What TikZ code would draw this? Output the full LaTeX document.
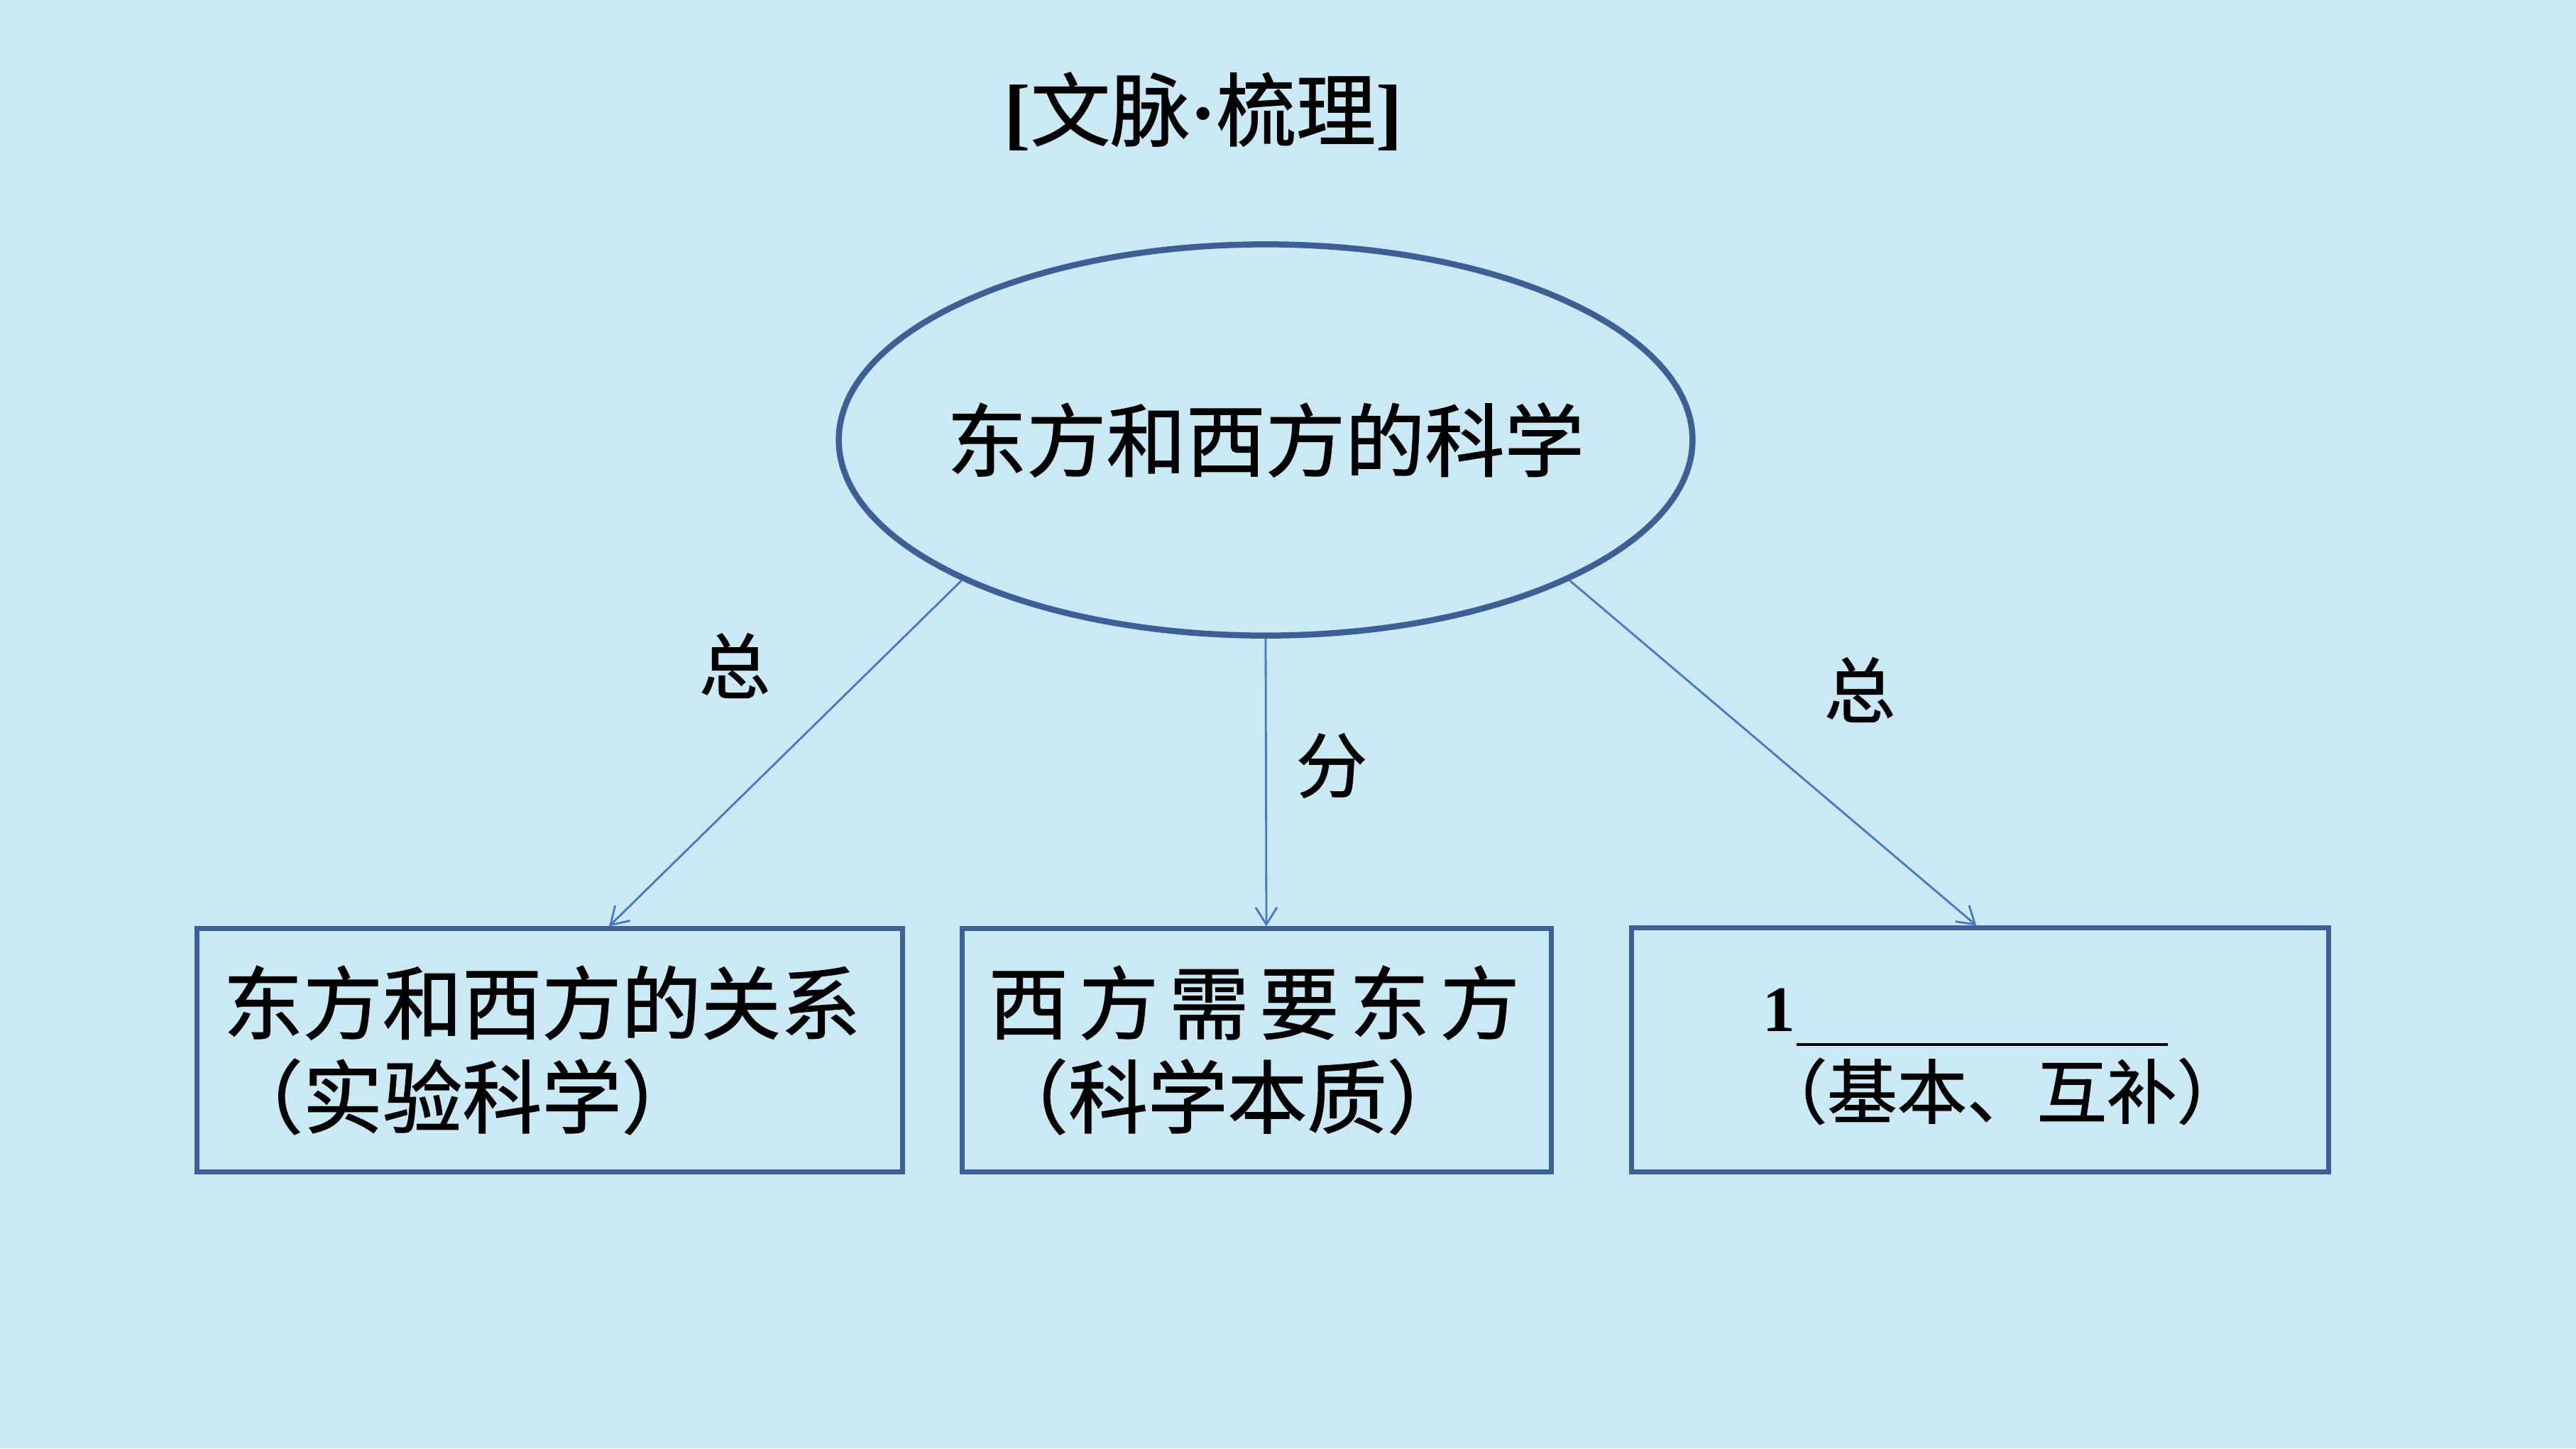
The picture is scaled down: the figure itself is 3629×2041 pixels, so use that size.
\documentclass[tikz,border=0pt]{standalone}
\usepackage{fontspec}
\setmainfont{Liberation Serif}
\newfontfamily\cjk[FakeBold=1.2]{Noto Sans CJK SC}
\usetikzlibrary{shapes.geometric,arrows.meta,calc}
\definecolor{bgblue}{RGB}{203,232,245}
\definecolor{boxblue}{RGB}{61,96,148}
\definecolor{arrowblue}{RGB}{74,120,190}
\begin{document}
\begin{tikzpicture}[x=0.01cm,y=-0.01cm,
  box/.style={draw=boxblue, line width=0.07cm, rectangle, inner ysep=0pt, inner xsep=0.37cm,
    align=left, font=\cjk\fontsize{31.9pt}{37.6pt}\selectfont, minimum height=3.42cm},
  conn/.style={draw=arrowblue, line width=0.8pt, -{Straight Barb[length=0.24cm,width=0.3cm]}},
  lab/.style={font=\cjk\fontsize{28.5pt}{30pt}\selectfont, inner sep=0pt},
  big/.style={font=\cjk\fontsize{31.9pt}{36pt}\selectfont, inner sep=0pt}]
\fill[bgblue] (0,0) rectangle (3629,2041);
\useasboundingbox (0,0) rectangle (3629,2041);
% title
\node[inner sep=0pt, font=\fontsize{31.9pt}{36pt}\selectfont] (title) at (1695,157)
  {\textbf{[}{\cjk 文脉}\textbf{·}{\cjk 梳理}\textbf{]}};
% ellipse
\node[ellipse, draw=boxblue, line width=0.085cm, minimum width=12.02cm, minimum height=5.51cm, inner sep=0pt] (ell) at (1783,620) {};
\node[big] (elltext) at (ell.center) {东方和西方的科学};
% boxes
\node[box, text width=9.19cm] (b1) at (774.5,1480) {东方和西方的关系\\（实验科学）};
\node[box, text width=7.55cm] (b2) at (1770.5,1480)
  {西\hspace{0.15cm}方\hspace{0.15cm}需\hspace{0.15cm}要\hspace{0.15cm}东\hspace{0.15cm}方\\（科学本质）};
\node[draw=boxblue, line width=0.07cm, rectangle, minimum width=9.81cm, minimum height=3.43cm, inner sep=0pt] (b3) at (2789.5,1479.5) {};
\node[anchor=base west, inner sep=0pt, font=\bfseries\fontsize{26pt}{30pt}\selectfont] (b3a) at (2483,1453)
  {1\hspace{0.02cm}\rule[-0.21cm]{5.22cm}{0.045cm}};
\node[anchor=west, inner sep=0pt, font=\cjk\fontsize{28pt}{32pt}\selectfont] (b3b) at (2475,1538) {（基本、互补）};
% arrow ends
\coordinate (e1) at ([xshift=0.835cm]b1.north);
\coordinate (e2) at ([xshift=0.135cm]b2.north);
\coordinate (e3) at ([xshift=-0.05cm]b3.north);
\draw[conn] (ell.south west) -- (e1);
\draw[conn] (ell.south) -- (e2);
\draw[conn] (ell.south east) -- (e3);
% labels
\node[lab] (l1) at (1035,938) {总};
\node[lab] (l2) at (1876,1079) {分};
\node[lab] (l3) at (2620,972) {总};
\end{tikzpicture}
\end{document}
